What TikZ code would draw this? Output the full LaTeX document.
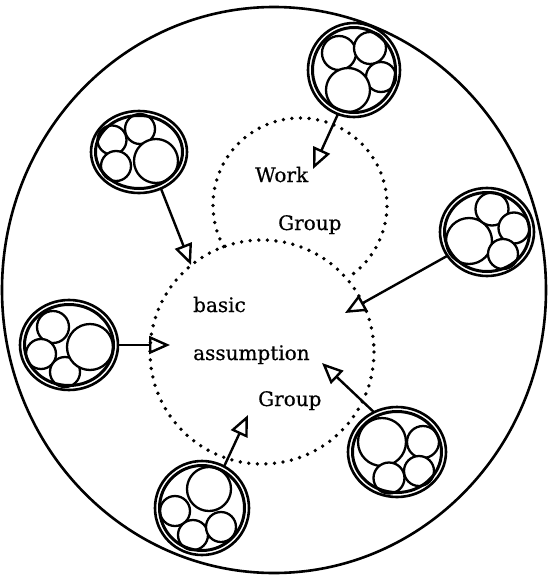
\documentclass[tikz,border=0pt]{standalone}
\usepackage{fontspec}
\setmainfont{DejaVu Serif}
\newfontfamily\lblfont{DejaVu Serif}[FakeBold=0.6]
\usetikzlibrary{arrows.meta,shapes.geometric}
\tikzset{
  ring/.style={ellipse, draw, line width=2.6pt, inner sep=0pt, outer sep=0pt},
  innerring/.style={line width=3pt},
  bub/.style={draw, line width=2.3pt, fill=white},
  dotline/.style={line width=3.8pt, dash pattern=on 0pt off 8.6pt, line cap=round},
  arr/.style={line width=2.4pt, -{Triangle[open, length=21pt, width=18pt, line width=2.4pt]}},
  lbl/.style={font=\lblfont\fontsize{20}{23}\selectfont, anchor=base west, inner sep=0pt},
}
\newcommand\mkcluster[6]{%
  \foreach \u/\v/\r in {#6} {\draw[bub] (\u,\v) circle [radius=\r];}
  \node[ring, minimum width={2*#4pt}, minimum height={2*#5pt}] (#1) at (#2,#3) {};
  \draw[innerring] (#2,#3) ellipse [x radius={#4-4.5}, y radius={#5-4.5}];
}
\begin{document}
\begin{tikzpicture}[x=1pt,y=-1pt]
\useasboundingbox (0,0) rectangle (548,576);
% outer boundary
\draw[line width=2.6pt] (274,290) ellipse [x radius=272, y radius=283];
% dotted group circles
\draw[dotline] (262,352) circle [radius=112];
\draw[dotline] (300,205) ++(151.4:87) arc [start angle=151.4, end angle=417.6, radius=87];
% clusters
\mkcluster{c1}{354}{70}{46}{47}{339/53/17, 370/48/16, 381/77/15, 348/90/22}
\mkcluster{c2}{139}{152}{48}{41}{140/129/15, 112/140/14.5, 116/166/15, 156/161/22}
\mkcluster{c3}{69}{345}{49}{45}{53/327/16, 41/354/15, 65/372/15, 90/347/23}
\mkcluster{c4}{487}{232}{47}{44}{469/241/23, 492/209/16.5, 514/228/15.5, 503/254/15}
\mkcluster{c5}{202}{508}{47}{47}{209/489/22, 175/511/15, 193/535/15, 221/527/15}
\mkcluster{c6}{397}{452}{49}{45}{382/442/24, 423/442/16, 389/478/15.5, 419/471/15}
% arrow targets
\coordinate (t1) at (313,169);
\coordinate (t2) at (191,265);
\coordinate (t3) at (345,313);
\coordinate (t4) at (170,345);
\coordinate (t5) at (248,415);
\coordinate (t6) at (322,363);
\draw[arr] (c1.250) -- (t1);
\draw[arr] (c2.-59) -- (t2);
\draw[arr] (c4.211) -- (t3);
\draw[arr] (c3.0) -- (t4);
\draw[arr] (c5.62) -- (t5);
\draw[arr] (c6.120) -- (t6);
% labels
\node[lbl] (lw) at (255,182) {Work};
\node[lbl] (lg1) at (278,230) {Group};
\node[lbl] (lb) at (193,312) {basic};
\node[lbl] (la) at (193,360) {assumption};
\node[lbl] (lg2) at (258,406) {Group};
\end{tikzpicture}
\end{document}
